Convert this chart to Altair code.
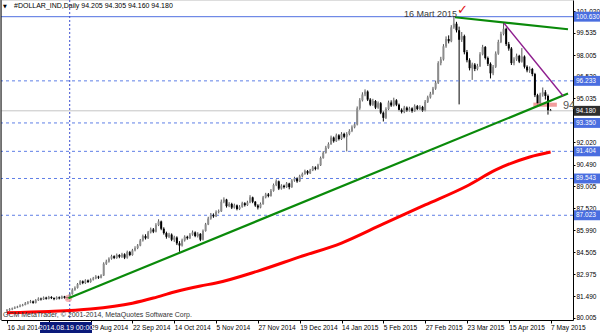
import altair as alt
import pandas as pd
import json

# ---- data (daily bars, index 0 = 16 Jul 2014) ----
close = [
    80.52, 80.58, 80.64, 80.70, 80.76, 80.83, 80.88, 80.98, 81.05, 81.12,
    81.02, 81.20, 81.31, 81.26, 81.38, 81.30, 81.42, 81.35, 81.28, 81.40,
    81.33, 81.45, 81.38, 81.36, 81.62, 81.92, 82.05, 82.30, 82.50, 82.38,
    82.56, 82.45, 82.62, 82.70, 82.82, 82.75, 82.90, 83.70, 83.85, 84.05,
    84.22, 84.10, 84.30, 84.18, 84.35, 84.12, 84.50, 84.30, 84.62, 84.78,
    84.95, 85.30, 85.60, 85.45, 85.85, 86.05, 85.90, 86.35, 86.60, 86.10,
    85.80, 85.55, 85.70, 85.35, 85.50, 85.10, 84.95, 85.30, 85.55, 85.45,
    85.70, 85.85, 85.60, 85.75, 85.35, 85.95, 86.40, 86.80, 87.05, 86.95,
    87.25, 87.30, 87.95, 88.10, 87.65, 87.80, 87.55, 87.70, 87.45, 87.60,
    87.85, 87.72, 87.90, 88.25, 87.95, 87.70, 87.55, 87.80, 88.25, 88.45,
    88.35, 88.70, 89.10, 89.35, 88.85, 89.05, 88.95, 89.20, 88.95, 89.40,
    89.55, 89.35, 89.70, 89.85, 90.05, 89.90, 90.10, 90.30, 90.20, 90.45,
    90.95, 91.30, 91.65, 91.90, 92.35, 92.10, 92.50, 92.25, 92.60, 92.40,
    92.60, 92.80, 93.05, 93.25, 94.35, 94.90, 95.30, 95.50, 94.95, 94.60,
    94.85, 94.40, 94.70, 94.05, 93.70, 94.30, 94.75, 94.55, 94.90, 94.60,
    94.25, 94.10, 94.40, 94.20, 94.35, 94.15, 94.50, 94.30, 94.45, 94.20,
    94.80, 95.10, 95.35, 95.70, 96.10, 97.45, 97.70, 98.60, 99.10, 98.95,
    99.90, 100.15, 99.70, 99.05, 99.30, 98.20, 97.65, 97.10, 97.35, 97.05,
    97.25, 98.05, 98.55, 97.80, 97.40, 96.75, 97.20, 98.10, 98.90, 99.45,
    99.80, 98.75, 98.45, 97.45, 97.70, 97.95, 97.55, 97.90, 97.20, 96.95,
    97.05, 96.70, 95.25, 94.70, 95.30, 95.45, 95.20, 94.205, 94.18,
]
high = [
    80.60, 80.66, 80.70, 80.78, 80.82, 80.92, 80.95, 81.08, 81.14, 81.22,
    81.18, 81.28, 81.40, 81.38, 81.46, 81.44, 81.50, 81.48, 81.40, 81.47,
    81.46, 81.52, 81.50, 81.46, 81.70, 82.02, 82.15, 82.38, 82.58, 82.56,
    82.64, 82.62, 82.70, 82.80, 82.92, 82.88, 82.98, 83.80, 83.98, 84.14,
    84.32, 84.28, 84.40, 84.36, 84.45, 84.42, 84.60, 84.58, 84.72, 84.90,
    85.05, 85.40, 85.70, 85.72, 85.95, 86.18, 86.15, 86.48, 86.75, 86.66,
    86.20, 85.90, 85.82, 85.78, 85.62, 85.58, 85.25, 85.42, 85.65, 85.62,
    85.80, 85.98, 85.92, 85.86, 85.80, 86.05, 86.50, 86.92, 87.18, 87.15,
    87.36, 87.42, 88.10, 88.25, 88.15, 87.92, 87.88, 87.82, 87.76, 87.72,
    87.95, 87.92, 88.02, 88.40, 88.30, 88.00, 87.78, 87.90, 88.35, 88.56,
    88.55, 88.82, 89.20, 89.48, 89.40, 89.15, 89.12, 89.30, 89.25, 89.50,
    89.66, 89.62, 89.80, 89.95, 90.15, 90.12, 90.20, 90.40, 90.38, 90.55,
    91.05, 91.42, 91.78, 92.02, 92.48, 92.42, 92.62, 92.58, 92.72, 92.68,
    92.72, 92.92, 93.18, 93.40, 94.48, 95.05, 95.45, 95.65, 95.58, 95.05,
    95.00, 94.92, 94.82, 94.78, 94.15, 94.42, 94.88, 94.90, 95.08, 94.98,
    94.68, 94.35, 94.52, 94.48, 94.46, 94.42, 94.62, 94.58, 94.56, 94.52,
    94.92, 95.22, 95.48, 95.82, 96.25, 97.58, 97.88, 98.75, 99.28, 99.35,
    100.05, 100.63, 100.28, 99.95, 99.58, 99.40, 98.35, 97.78, 97.48, 97.45,
    97.40, 98.20, 98.70, 98.62, 97.90, 97.50, 97.32, 98.25, 99.05, 99.60,
    100.25, 99.88, 98.90, 98.55, 97.85, 98.10, 98.02, 98.48, 97.98, 97.30,
    97.22, 97.12, 96.78, 95.35, 95.42, 95.78, 95.60, 95.30, 94.305,
]
low = [
    80.40, 80.47, 80.52, 80.60, 80.66, 80.72, 80.78, 80.85, 80.92, 81.00,
    80.96, 80.98, 81.15, 81.18, 81.22, 81.24, 81.26, 81.28, 81.20, 81.24,
    81.26, 81.28, 81.30, 81.22, 81.30, 81.58, 81.85, 82.00, 82.24, 82.30,
    82.32, 82.38, 82.40, 82.55, 82.64, 82.66, 82.70, 82.86, 83.62, 83.78,
    83.98, 84.02, 84.04, 84.08, 84.10, 84.02, 84.05, 84.22, 84.25, 84.55,
    84.70, 84.90, 85.22, 85.36, 85.40, 85.78, 85.80, 85.85, 86.28, 86.00,
    85.70, 85.42, 85.46, 85.25, 85.20, 84.98, 84.52, 84.88, 85.22, 85.35,
    85.40, 85.62, 85.52, 85.50, 85.25, 85.30, 85.90, 86.35, 86.72, 86.85,
    86.90, 87.15, 87.25, 87.85, 87.55, 87.58, 87.45, 87.48, 87.36, 87.38,
    87.54, 87.62, 87.66, 87.85, 87.85, 87.60, 87.42, 87.50, 87.74, 88.18,
    88.25, 88.30, 88.64, 89.02, 88.75, 88.78, 88.85, 88.90, 88.80, 88.90,
    89.32, 89.25, 89.30, 89.62, 89.80, 89.80, 89.85, 90.05, 90.10, 90.15,
    90.40, 90.90, 91.25, 91.58, 91.85, 92.00, 92.05, 92.15, 92.18, 92.30,
    91.40, 92.50, 92.72, 92.98, 93.18, 94.25, 94.82, 95.18, 94.85, 94.50,
    94.52, 94.30, 94.32, 93.95, 93.45, 93.62, 94.22, 94.45, 94.48, 94.50,
    94.15, 94.00, 94.02, 94.10, 94.12, 94.05, 94.10, 94.22, 94.24, 94.10,
    94.14, 94.72, 95.02, 95.28, 95.62, 96.02, 97.30, 97.62, 98.50, 98.80,
    98.88, 99.80, 99.55, 94.62, 98.90, 98.05, 97.50, 96.95, 96.30, 96.90,
    96.95, 97.18, 97.98, 97.70, 97.25, 96.40, 96.62, 97.12, 98.02, 98.82,
    99.35, 98.62, 98.30, 97.32, 97.30, 97.60, 97.45, 97.48, 97.08, 96.82,
    96.78, 96.55, 95.12, 94.58, 94.62, 95.15, 94.95, 93.92, 94.16,
]
first_open = 80.45

# red moving average (bar index, value)
ma_bar = [0, 16, 32, 48, 56, 64, 74, 80, 96, 112, 128, 144, 160, 176, 187, 200, 208]
ma_val = [80.35, 80.43, 80.60, 81.00, 81.35, 81.77, 82.18, 82.38, 83.20, 84.17,
          85.12, 86.43, 87.73, 89.03, 90.13, 91.02, 91.36]

# trend lines (anchor bar, price)
support_bar = [23.5, 214.66]
support_val = [81.33, 95.36]
resist_bar = [171.4, 214.66]
resist_val = [100.59, 99.77]
purple_bar = [190.2, 212.8]
purple_val = [100.18, 95.20]

# horizontal levels
dashed_levels = [96.233, 93.350, 91.404, 89.543, 87.023]
blue_level = [100.630]
last_price = [94.180]
cross_bar = [24]

# rectangle object
rect_bar = [201.4, 210.4]
rect_val = [94.46, 94.74]

# (the 7 Aug 2014 label sits under the highlighted crosshair date box)
date_ticks = [0, 16, 32, 48, 64, 80, 96, 112, 128, 144, 160, 176, 192, 208]
date_labels = ["16 Jul 2014", "", "29 Aug 2014", "22 Sep 2014", "14 Oct 2014",
               "5 Nov 2014", "27 Nov 2014", "19 Dec 2014", "14 Jan 2015", "5 Feb 2015",
               "27 Feb 2015", "23 Mar 2015", "15 Apr 2015", "7 May 2015"]
y_ticks = [101.020, 99.535, 98.005, 96.530, 95.035, 93.505, 92.020, 90.490, 89.005,
           87.520, 85.990, 84.505, 82.975, 81.490, 80.005]

FONT = "Liberation Sans"
W, H = 572, 320
xs = alt.Scale(domain=[-0.376, 214.66], nice=False, zero=False)
ys = alt.Scale(domain=[79.847, 101.774], nice=False, zero=False)

opens = [first_open] + close[:-1]
candles = pd.DataFrame({"i": list(range(len(close))), "o": opens, "h": high, "l": low, "c": close})

x_axis = alt.Axis(values=date_ticks, labelExpr=json.dumps(date_labels) + "[round(datum.value/16)]",
                  title=None, grid=False, labelAlign="left", labelFontSize=6.6, labelFont=FONT,
                  tickSize=3, labelPadding=1, labelOverlap=False, labelBound=False, labelFlush=False,
                  domainColor="black", tickColor="black", labelColor="black", zindex=0)
y_axis = alt.Axis(values=y_ticks, format=".3f", orient="right", title=None, grid=False,
                  labelFontSize=6.5, labelFont=FONT, tickSize=2, labelPadding=1,
                  labelOverlap=False, labelBound=False, labelFlush=False,
                  domainColor="black", tickColor="black", labelColor="black", zindex=0)


def X(f):
    return alt.X(f, type="quantitative", scale=xs, axis=x_axis)


def Y(f):
    return alt.Y(f, type="quantitative", scale=ys, axis=y_axis)


updown = alt.condition("datum.c >= datum.o", alt.value("#8c8c8c"), alt.value("#000000"))
wickcol = alt.condition("datum.c >= datum.o", alt.value("#555555"), alt.value("#000000"))

wicks = alt.Chart(candles).mark_rule(strokeWidth=1).encode(
    x=X("i"), y=Y("l"), y2="h", color=wickcol)
bodies = alt.Chart(candles).mark_bar(size=2).encode(x=X("i"), y=Y("o"), y2="c", color=updown)

dash = alt.Chart(pd.DataFrame({"p": dashed_levels})).mark_rule(
    color="#5f7fe6", strokeDash=[3, 3], strokeWidth=1).encode(y=Y("p"))
blue = alt.Chart(pd.DataFrame({"p": blue_level})).mark_rule(color="#4f6fe0", strokeWidth=1).encode(y=Y("p"))
grayl = alt.Chart(pd.DataFrame({"p": last_price})).mark_rule(color="#c4c4c4", strokeWidth=1).encode(y=Y("p"))
vline = alt.Chart(pd.DataFrame({"i": cross_bar})).mark_rule(
    color="#3d4fd0", strokeDash=[2, 2], strokeWidth=1).encode(x=X("i"))

rect = alt.Chart(pd.DataFrame({"i0": [rect_bar[0]], "i1": [rect_bar[1]],
                               "p0": [rect_val[0]], "p1": [rect_val[1]]})).mark_rect(
    color="#f08c8c", opacity=0.85).encode(x=X("i0"), x2="i1", y=Y("p0"), y2="p1")
circ = alt.Chart(pd.DataFrame({"i": [23.5], "p": [81.33]})).mark_point(
    filled=True, color="#f5a5a5", opacity=0.8, size=55).encode(x=X("i"), y=Y("p"))

ma = alt.Chart(pd.DataFrame({"i": ma_bar, "p": ma_val})).mark_line(
    color="#ff0000", strokeWidth=3, interpolate="monotone").encode(x=X("i"), y=Y("p"))


def seg(bars, vals, color, w):
    return alt.Chart(pd.DataFrame({"i": bars, "p": vals})).mark_line(
        color=color, strokeWidth=w).encode(x=X("i"), y=Y("p"))


sup = seg(support_bar, support_val, "#0a8a0a", 2.2)
res = seg(resist_bar, resist_val, "#0a8a0a", 2.2)
pur = seg(purple_bar, purple_val, "#8e1e8e", 1.4)

one = pd.DataFrame({"k": [0]})


def txt(s, x, y, size=7, color="black", align="left", font=FONT, weight="normal"):
    return alt.Chart(one).mark_text(text=s, align=align, baseline="middle", fontSize=size,
                                    font=font, color=color, fontWeight=weight).encode(
        x=alt.value(x), y=alt.value(y))


title_tri = txt("▼", 2, 6, size=5, font="DejaVu Sans")
title = txt("#DOLLAR_IND,Daily  94.205 94.305 94.160 94.180", 13, 6, size=7)
copy = txt("GCM MetaTrader, © 2001-2014, MetaQuotes Software Corp.", 2, 315, size=7, color="#333333")
mart = txt("16 Mart 2015", 403, 14, size=9, color="#3a3a3a")
check = txt("✓", 456, 10, size=13, color="#e01010", font="DejaVu Sans", weight="bold")
t94 = txt("94", 562, 106, size=11, color="#555555")
left_border = alt.Chart(one).mark_rule(color="black").encode(
    x=alt.value(0), y=alt.value(0), y2=alt.value(H))

# price labels in boxes on the right axis
box_df = pd.DataFrame({"p": blue_level + dashed_levels + last_price,
                       "kind": ["b"] * 6 + ["c"]})
boxes = alt.Chart(box_df).transform_calculate(
    hi="datum.p + 0.34", lo="datum.p - 0.34").mark_rect().encode(
    x=alt.value(573), x2=alt.value(599), y=Y("hi:Q"), y2="lo:Q",
    color=alt.condition("datum.kind == 'c'", alt.value("#2e2e2e"), alt.value("#4a6ee0")))
box_txt = alt.Chart(box_df).transform_calculate(lab="format(datum.p, '.3f')").mark_text(
    align="left", baseline="middle", fontSize=6.5, font=FONT, color="white").encode(
    x=alt.value(575), y=Y("p:Q"), text="lab:N")

xbox = alt.Chart(one).mark_rect(color="#0a1a7a").encode(
    x=alt.value(39), x2=alt.value(91), y=alt.value(322), y2=alt.value(333))
xbox_t = txt("2014.08.19 00:00", 65, 327.5, size=7, color="white", align="center")

chart = alt.layer(
    wicks, grayl, dash, blue, vline, rect, circ, ma, bodies, sup, res, pur,
    title_tri, title, copy, mart, check, t94, left_border, boxes, box_txt, xbox, xbox_t
).properties(
    width=W, height=H, autosize="none",
    padding={"left": 1, "top": 0, "right": 27, "bottom": 13},
).configure_view(stroke=None).configure(background="white")

chart.save("out.html", embed_options={"renderer": "svg", "actions": False})
